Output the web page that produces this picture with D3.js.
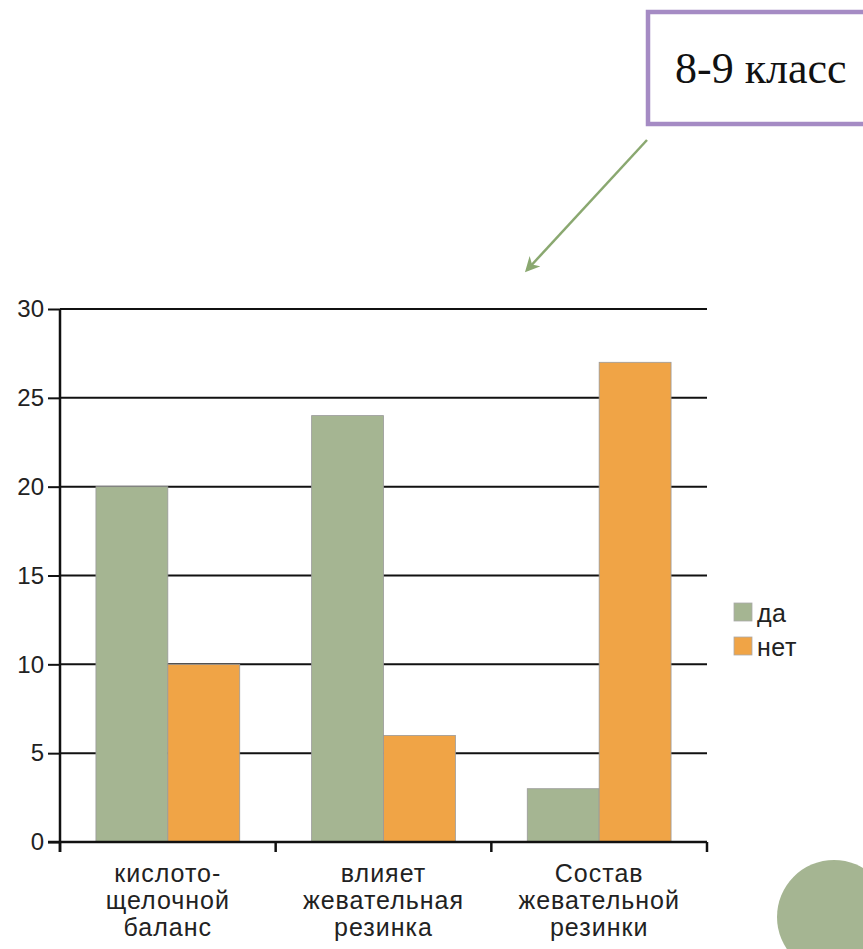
<!DOCTYPE html>
<html><head><meta charset="utf-8">
<script src="https://cdn.jsdelivr.net/npm/d3@7"></script>
<style>body{margin:0;background:#fff}svg{display:block}</style>
</head><body>
<script>
const categories = [["кислото-","щелочной","баланс"],["влияет","жевательная","резинка"],["Состав","жевательной","резинки"]];
const categoryKeys = ["c1","c2","c3"];
const seriesNames = ["да","нет"];
const valuesDa = [20, 24, 3];
const valuesNet = [10, 6, 27];
const yTicks = [0,5,10,15,20,25,30];
const title = "8-9 класс";
const colors = ["#a5b592","#f0a446"];

(function(){
const W=863,H=949;
const svg=d3.select("body").append("svg").attr("width",W).attr("height",H);
const pL=60,pR=707,pT=309,pB=842;
const x0=d3.scaleBand().domain(categoryKeys).range([pL,pR]).padding(0);
const x1=d3.scaleBand().domain(seriesNames).range([0,x0.bandwidth()]).paddingInner(0).paddingOuter(0.5);
const y=d3.scaleLinear().domain([0,30]).range([pB,pT]);

// gridlines
svg.append("g").selectAll("line").data(yTicks.filter(d=>d>0)).join("line")
  .attr("x1",pL).attr("x2",pR).attr("y1",d=>y(d)).attr("y2",d=>y(d))
  .attr("stroke","#111").attr("stroke-width",2);

// bars
const data = categoryKeys.map((k,i)=>({k,vals:[valuesDa[i],valuesNet[i]]}));
svg.append("g").selectAll("g").data(data).join("g")
  .attr("transform",d=>`translate(${x0(d.k)},0)`)
  .selectAll("rect").data(d=>d.vals.map((v,j)=>({s:seriesNames[j],v,j}))).join("rect")
  .attr("x",d=>x1(d.s)).attr("width",x1.bandwidth())
  .attr("y",d=>y(d.v)).attr("height",d=>pB-y(d.v))
  .attr("fill",d=>colors[d.j]).attr("stroke","#9a9a9a").attr("stroke-width",0.8);

// y axis
const ya=svg.append("g").attr("transform",`translate(${pL},0)`)
  .call(d3.axisLeft(y).tickValues(yTicks).tickSize(12).tickPadding(4));
ya.select(".domain").remove();
ya.selectAll(".tick line").attr("stroke","#111").attr("stroke-width",2);
ya.selectAll(".tick text").attr("font-family","Liberation Sans, Arial").attr("font-size",24).attr("fill","#222");
svg.append("line").attr("x1",pL).attr("x2",pL).attr("y1",pT).attr("y2",pB+10).attr("stroke","#111").attr("stroke-width",2.5);

// x axis
svg.append("line").attr("x1",pL-12).attr("x2",pR).attr("y1",pB).attr("y2",pB).attr("stroke","#111").attr("stroke-width",2.5);
const bounds=categoryKeys.map(k=>x0(k)).concat([x0(categoryKeys[2])+x0.bandwidth()]);
svg.append("g").selectAll("line").data(bounds).join("line")
  .attr("x1",d=>d).attr("x2",d=>d).attr("y1",pB).attr("y2",pB+10)
  .attr("stroke","#111").attr("stroke-width",2.5);
const xl=svg.append("g").selectAll("text").data(categoryKeys).join("text")
  .attr("transform",k=>`translate(${x0(k)+x0.bandwidth()/2},0)`)
  .attr("text-anchor","middle").attr("font-family","Liberation Sans, Arial").attr("font-size",25)
  .attr("letter-spacing",1).attr("fill","#222");
xl.selectAll("tspan").data((k,i)=>categories[i]).join("tspan")
  .attr("x",0).attr("y",(d,i)=>882+i*27).text(d=>d);

// legend
const lg=svg.append("g").selectAll("g").data(seriesNames).join("g")
  .attr("transform",(d,i)=>`translate(734,${603+i*34})`);
lg.append("rect").attr("width",18).attr("height",18).attr("fill",(d,i)=>colors[i]).attr("stroke","#aaa").attr("stroke-width",0.8);
lg.append("text").attr("x",23).attr("y",19).attr("font-family","Liberation Sans, Arial").attr("font-size",25).attr("letter-spacing",0.5).attr("fill","#222").text(d=>d);

// title box
svg.append("rect").attr("x",648).attr("y",12).attr("width",230).attr("height",112).attr("fill","#fff").attr("stroke","#a58bc4").attr("stroke-width",4.5);
svg.append("text").attr("x",675).attr("y",83).attr("font-family","Liberation Serif, Times New Roman").attr("font-size",44).attr("fill","#111").text(title);

// arrow
const defs=svg.append("defs");
defs.append("marker").attr("id","ah").attr("viewBox","0 0 10 10").attr("refX",8).attr("refY",5)
  .attr("markerWidth",6).attr("markerHeight",6).attr("orient","auto")
  .append("path").attr("d","M0,0 L10,5 L0,10 L3,5 Z").attr("fill","#8aa870");
svg.append("line").attr("x1",647).attr("y1",140).attr("x2",527).attr("y2",270)
  .attr("stroke","#8aa870").attr("stroke-width",2.5).attr("marker-end","url(#ah)");

// decorative circle
svg.append("circle").attr("cx",834).attr("cy",917).attr("r",57).attr("fill","#a5b592");
})();
</script>
</body></html>
